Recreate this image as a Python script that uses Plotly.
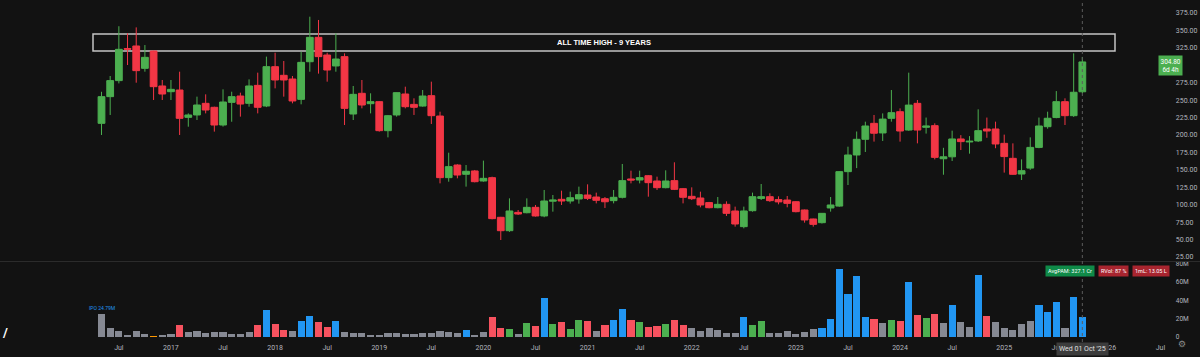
import plotly.graph_objects as go
import pandas as pd

# ---------------- DATA ----------------
months = [p.strftime("%Y-%m") for p in pd.period_range("2016-05", "2025-10", freq="M")]

opens = [216.7, 255, 278, 324, 327.7, 295.6, 320.5, 270.3,
         262.1, 264.5, 225.3, 228.7, 245.4, 239.7, 214.3, 246.8, 255.9, 245.4, 271.2, 241.6,
         298, 285.6, 280.3, 251.1, 305.1, 340.1, 314.7, 299, 312.4, 230.1, 259.8, 244.9,
         247.8, 206.2, 228.7, 258.8, 243.9, 241.5, 256.4, 227.2, 138.8, 156.9, 143.6, 148.4,
         134, 138.8, 81.9, 62.7, 89, 88.5, 96.2, 83.8, 105, 107.7, 105.3, 108.2,
         113.9, 111, 108.6, 105.8, 110.6, 136.9, 135.4, 141.6, 134, 124.4, 134.5, 123,
         112, 109.6, 103, 95.7, 100.5, 91, 68.5, 91.4, 109, 111.5, 107.3, 106.7,
         104.3, 92.4, 79.5, 74.2, 95.3, 98, 147.4, 171.3, 193.8, 216.7, 202.9, 223.9,
         233.4, 207.1, 245.4, 211, 213.4, 165.9, 168.7, 194.3, 190, 191.5, 208.6, 208.6,
         188, 166.5, 144, 152.5, 182.2, 211.9, 225, 247.8, 227.7, 262]
highs = [262, 284.6, 356, 345.8, 354.4, 329, 321, 278.9,
         278.9, 290.8, 231, 255, 258.3, 240.6, 265.5, 262.1, 260.7, 279.8, 289.4, 312.4,
         318, 306.1, 284.6, 319.5, 369.7, 365, 318, 345.8, 317.1, 270.3, 278.9, 259.8,
         248.5, 228.7, 261, 269.3, 252.6, 264.5, 276.5, 233.4, 174.6, 158, 156.9, 149.8,
         163.2, 140.2, 82.5, 109.1, 92.4, 109.1, 99.6, 121.1, 113.9, 120.1, 118.7, 125.9,
         129.2, 117.3, 111, 121.1, 158.4, 148.8, 148.8, 142.5, 140.2, 149.3, 160.8, 124,
         124.9, 118.7, 104, 111, 104.8, 97.2, 97.2, 117.3, 129.7, 116.3, 112, 112.5,
         105, 93, 80, 88, 111, 148, 183.2, 205, 219.1, 228.7, 231, 264.5,
         238.2, 289.4, 250.2, 225, 216.7, 181.6, 206.2, 199.8, 198.4, 236.8, 225, 219.1,
         200.5, 188, 165, 196.6, 225, 233.4, 263, 252.6, 317.1, 312]
lows = [200, 228.7, 274, 300.4, 275, 290.8, 250.2, 250.2,
        250.2, 200, 211.9, 221.5, 231, 204.8, 212, 219, 226.3, 240.6, 231, 240,
        266.9, 255, 245.4, 244, 290.8, 288, 276.5, 290.8, 214.3, 221.5, 238.2, 231,
        204.8, 196.6, 226.3, 238.2, 228.7, 240.6, 215.8, 130.6, 133, 137.8, 125.9, 132,
        133, 79, 49.3, 61, 85.2, 87.6, 83, 82, 90, 99.6, 101.5, 101.5,
        106.7, 101.9, 95.3, 101.9, 109, 130.6, 130.6, 111.5, 121.1, 123.5, 121, 101.9,
        106.7, 96.2, 94.8, 94.8, 83.8, 68.5, 66.1, 90, 106.7, 104, 100.5, 96.2,
        89, 74.2, 68.5, 73, 90, 97, 128.2, 152.5, 175.6, 190.5, 191.4, 219.1,
        190.5, 206, 188, 202, 165, 143, 162.7, 178.4, 173.2, 190, 196, 181,
        146, 143, 135.4, 150, 181, 209, 224, 214.3, 226, 260]
closes = [255, 278, 322.9, 323, 292.3, 311.4, 269.3, 258.8,
          265.5, 223.9, 228.7, 243, 235.8, 214.3, 247.3, 255, 244.4, 270.3, 239.7, 298,
          278.9, 278.9, 248.8, 304.2, 340.1, 312.4, 293.2, 309, 238.2, 258.3, 243, 247.8,
          206.2, 227.7, 260.7, 240.6, 239.7, 255.9, 227.7, 138.8, 154.6, 142.6, 147.9, 133,
          137.8, 80, 62.7, 91, 86.6, 96.2, 83.8, 105.3, 106.7, 105.3, 110, 114.4,
          109.1, 106.3, 104.2, 110.6, 134.5, 135.4, 138.8, 131.6, 124.4, 134, 122, 110.6,
          108.6, 99.6, 95.7, 100.5, 87.6, 72.3, 91, 111.5, 111.5, 105.8, 104, 101.9,
          90, 78.1, 71.8, 87.6, 99.6, 147.4, 171.3, 193.8, 212.9, 202.5, 222.8, 232,
          205.7, 242.9, 207.1, 212.9, 167.9, 168.7, 194.3, 190.5, 191, 206.2, 205.7, 187.1,
          169, 143.6, 148.8, 182.2, 212.9, 224, 247.8, 227.7, 261.3, 304.8]
# monthly volume, millions of shares
volumes_m = [24.79, 10, 7, 2, 7, 3, 1, 2,
             3, 13, 5, 7, 4, 6, 6, 3, 3, 6, 13, 29,
             14, 8, 7, 17, 23, 16, 11, 17, 6, 4.5, 4, 2,
             2, 4, 4, 3.5, 3.5, 4.5, 4.5, 7, 5, 4.5, 8, 2,
             5.5, 21.5, 9.5, 9, 3, 15, 12.5, 42.5, 14, 16, 8.5, 18.5,
             17.5, 7, 13, 18, 30, 19, 16.5, 11, 12, 14, 18, 13,
             9.5, 6.5, 9.5, 7.5, 4.5, 4.5, 21.5, 13, 17.5, 4.5, 4.5, 7,
             3.5, 5.5, 9, 9.5, 20, 74.5, 46.5, 66, 22, 20, 15, 18.5,
             17.5, 60, 23.6, 21, 24.7, 15, 34.5, 16.7, 11.3, 67.6, 23, 16.4,
             10, 7.6, 13.8, 17.5, 34.5, 27.6, 38.5, 10, 44, 22]
# volume class per month: n normal, u up-volume, d down-volume, s spike, l lowest
vol_class = (
    ["n", "n", "n", "n", "n", "n", "l", "n"]                          # 2016 May-Dec
    + ["n", "d", "n", "n", "n", "n", "n", "n", "n", "n", "d", "s"]    # 2017
    + ["d", "d", "n", "s", "s", "d", "d", "s", "n", "n", "n", "n"]    # 2018
    + ["n", "n", "n", "n", "n", "n", "n", "n", "n", "n", "s", "n"]    # 2019
    + ["n", "d", "d", "u", "n", "u", "d", "s", "u", "d", "u", "u"]    # 2020
    + ["d", "n", "d", "s", "s", "d", "u", "d", "d", "u", "d", "d"]    # 2021
    + ["n", "n", "n", "n", "n", "n", "s", "u", "u", "n", "n", "n"]    # 2022
    + ["n", "n", "n", "s", "s", "s", "s", "s", "s", "d", "n", "u"]    # 2023
    + ["d", "s", "d", "u", "d", "n", "s", "n", "n", "s", "d", "n"]    # 2024
    + ["n", "n", "n", "n", "s", "s", "s", "n", "s", "s"]              # 2025 Jan-Oct
)
price_ticks = [25, 50, 75, 100, 125, 150, 175, 200, 225, 250, 275, 325, 350, 375]
vol_ticks = [0, 20, 40, 60, 80]
vol_tick_text = ["0", "20M", "40M", "60M", "80M"]
ath_low, ath_high = 320.5, 344.9

# ---------------- STYLE ----------------
BG = "#121212"
GREEN = "#4caf50"
RED = "#f23645"
AXIS_TXT = "#b2b5be"
VOL_COLORS = {"n": "#868993", "u": "#4caf50", "d": "#f7525f", "s": "#2196f3", "l": "#ff9800"}

x = list(range(len(months)))

# x tick labels: Jan -> year, Jul -> "Jul"
y0, m0 = int(months[0][:4]), int(months[0][5:])
tickvals, ticktext = [], []
for p in pd.period_range("2016-07", "2026-07", freq="M"):
    if p.month in (1, 7):
        tickvals.append((p.year - y0) * 12 + (p.month - m0))
        ticktext.append("Jul" if p.month == 7 else str(p.year))

fig = go.Figure()
fig.add_trace(go.Candlestick(
    x=x, open=opens, high=highs, low=lows, close=closes,
    increasing=dict(line=dict(color=GREEN, width=1), fillcolor=GREEN),
    decreasing=dict(line=dict(color=RED, width=1), fillcolor=RED),
    whiskerwidth=0, xaxis="x", yaxis="y", hoverinfo="skip", showlegend=False))

fig.add_trace(go.Bar(
    x=x, y=volumes_m, marker=dict(color=[VOL_COLORS[c] for c in vol_class], line=dict(width=0)),
    width=0.82, xaxis="x", yaxis="y2", hoverinfo="skip", showlegend=False))

PX0, PXM = 101.5, 8.68  # pixel of first bar, pixels per month
xr = [-PX0 / PXM, (1200 - PX0) / PXM]
last_i = len(months) - 1

fig.update_layout(
    width=1200, height=357, autosize=False,
    margin=dict(l=0, r=0, t=0, b=15),
    paper_bgcolor=BG, plot_bgcolor=BG,
    font=dict(family="Roboto, DejaVu Sans, sans-serif", color=AXIS_TXT, size=7),
    boxgap=0.22, boxgroupgap=0,
    xaxis=dict(domain=[0, 1], range=xr, anchor="y2", showgrid=False, zeroline=False,
               showline=False, ticks="", tickvals=tickvals, ticktext=ticktext,
               tickfont=dict(size=7, color=AXIS_TXT), rangeslider=dict(visible=False)),
    yaxis=dict(domain=[0.2368, 1], range=[19.2, 393.65], side="right", anchor="free",
               position=0.979, showgrid=False, zeroline=False, showline=False, ticks="",
               automargin=False,
               tickvals=price_ticks, ticktext=[f"{v:.2f}" for v in price_ticks],
               tickfont=dict(size=7, color=AXIS_TXT)),
    yaxis2=dict(domain=[0, 0.2339], range=[-5.45, 81.8], side="right", anchor="free",
                position=0.979, showgrid=False, zeroline=False, showline=False, ticks="",
                automargin=False,
                tickvals=vol_ticks, ticktext=vol_tick_text,
                tickfont=dict(size=6.5, color=AXIS_TXT)),
    bargap=0,
)

box_x0 = (93 - PX0) / PXM
box_x1 = (1115 - PX0) / PXM
shapes = [
    dict(type="rect", xref="x", yref="y", x0=box_x0, x1=box_x1, y0=ath_low, y1=ath_high,
         line=dict(color="#c4c4c4", width=1.5), fillcolor="rgba(0,0,0,0)", layer="below"),
    dict(type="line", xref="paper", yref="paper", x0=0, x1=1, y0=0.2354, y1=0.2354,
         line=dict(color="#2c2c2c", width=1)),
    dict(type="line", xref="x", yref="paper", x0=last_i, x1=last_i, y0=0, y1=1,
         line=dict(color="#5c5c5c", width=1, dash="dot")),
]
fig.update_layout(shapes=shapes)

ann = [
    dict(xref="x", yref="y", x=(box_x0 + box_x1) / 2, y=(ath_low + ath_high) / 2,
         text="<b>ALL TIME HIGH - 9 YEARS</b>", showarrow=False,
         font=dict(size=7.5, color="#ffffff", family="Liberation Sans, Arial, sans-serif")),
    dict(xref="paper", yref="y", x=1183 / 1200, y=299.7, text=f"{closes[-1]:.2f}<br>6d 4h",
         showarrow=False, bgcolor=GREEN, borderpad=1.5,
         font=dict(size=6.5, color="#ffffff")),
    dict(xref="paper", yref="y2", x=1095 / 1200, y=72, xanchor="right", text="AvgPAM: 327.1 Cr",
         showarrow=False, bgcolor="#0f8a48", borderpad=2, font=dict(size=5.5, color="#ffffff")),
    dict(xref="paper", yref="y2", x=1098 / 1200, y=72, xanchor="left", text="RVol: 87 %",
         showarrow=False, bgcolor="#a8252f", borderpad=2, font=dict(size=5.5, color="#ffffff")),
    dict(xref="paper", yref="y2", x=1132 / 1200, y=72, xanchor="left", text="1mL: 13.05 L",
         showarrow=False, bgcolor="#a8252f", borderpad=2, font=dict(size=5.5, color="#ffffff")),
    dict(xref="x", yref="y2", x=0, y=volumes_m[0], yanchor="bottom", yshift=1,
         text=f"IPO {volumes_m[0]:.2f}M", showarrow=False,
         font=dict(size=5, color="#2196f3")),
    dict(xref="x", yref="paper", x=last_i, y=-0.021, yanchor="middle",
         text="Wed 01 Oct '25", showarrow=False, bgcolor="#3c3c3c", borderpad=2,
         font=dict(size=7, color="#e0e0e0")),
    dict(xref="paper", yref="paper", x=0.0, y=0.0, xanchor="left",
         text="<b>/</b>", showarrow=False, font=dict(size=13, color="#ffffff")),
    dict(xref="paper", yref="paper", x=1188 / 1200, y=-0.025, text="⚙", showarrow=False,
         font=dict(size=9, color="#8a8a8a", family="DejaVu Sans")),
]
fig.update_layout(annotations=ann)

fig.write_html("out.html", config={"displayModeBar": False},
               post_script="document.body.style.margin='0';document.body.style.background='#121212';")
